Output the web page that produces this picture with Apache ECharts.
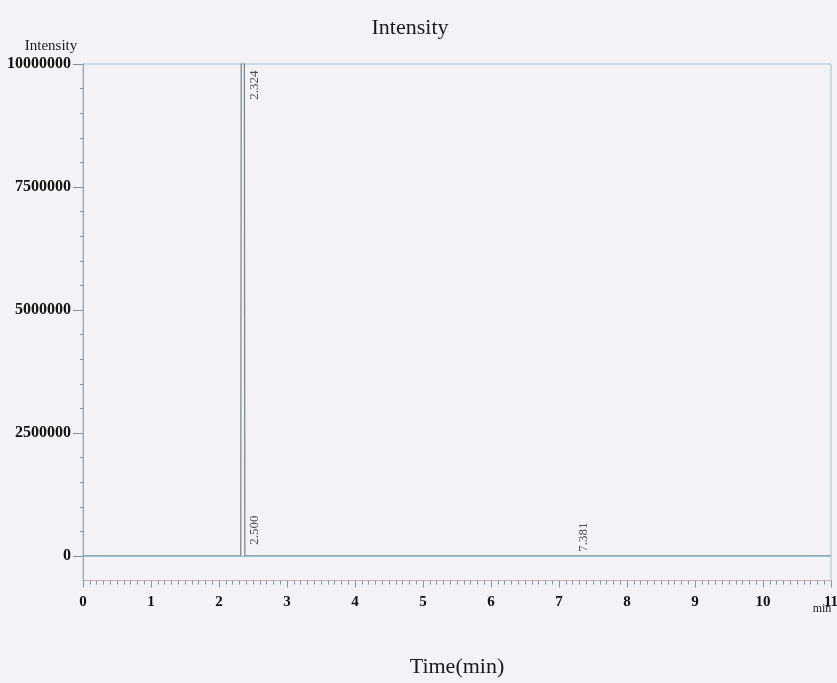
<!DOCTYPE html>
<html>
<head>
<meta charset="utf-8">
<script src="https://cdn.jsdelivr.net/npm/echarts@6/dist/echarts.min.js"></script>
<style>
html,body{margin:0;padding:0;background:#f2f2f7;}
#c{width:837px;height:683px;}
</style>
</head>
<body>
<div id="c"></div>
<script>
// ---- data ----
var signalTimes  = [0, 2.32, 2.33, 2.37, 2.38, 2.50, 7.381, 11];
var signalValues = [0, 0, 15000000, 15000000, 0, 0, 0, 0];
var peakTimes  = [2.324, 2.500, 7.381];
var peakApex   = [10000000, 0, 0];   // displayed apex (2.324 is off scale, clipped at top)
var peakLabels = ['2.324', '2.500', '7.381'];
var yTickValues = [0, 2500000, 5000000, 7500000, 10000000];
var yMinorValues = [500000,1000000,1500000,2000000,3000000,3500000,4000000,4500000,5500000,6000000,6500000,7000000,8000000,8500000,9000000,9500000];

// label offsets (rotated frame: [-screenDy, screenDx])
var labelOffsets = [[-21, 14], [26, 2], [19, -1]];

var signal = signalTimes.map(function (t, i) { return [t, signalValues[i]]; });
var peaks = peakTimes.map(function (t, i) {
  return {
    value: [t, peakApex[i]],
    label: { offset: labelOffsets[i] }
  };
});

var serif = '"Liberation Serif", "DejaVu Serif", serif';
var chart = echarts.init(document.getElementById('c'), null, { renderer: 'canvas' });
chart.setOption({
  backgroundColor: '#f2f2f7',
  animation: false,
  grid: {
    left: 83, right: 6, top: 64, bottom: 683 - 580.6,
    containLabel: false, outerBoundsMode: 'none',
    show: true, borderColor: '#a6c3cf', borderWidth: 1, backgroundColor: 'transparent'
  },
  graphic: [
    { type: 'text', x: 410, y: 28, style: { text: 'Intensity', font: '22px ' + serif, fill: '#1a1a1a', textAlign: 'center', textVerticalAlign: 'middle' } },
    { type: 'text', x: 51, y: 46, style: { text: 'Intensity', font: '15px ' + serif, fill: '#1a1a1a', textAlign: 'center', textVerticalAlign: 'middle' } },
    { type: 'text', x: 822, y: 609, style: { text: 'min', font: '12px ' + serif, fill: '#1a1a1a', textAlign: 'center', textVerticalAlign: 'middle' } }
  ],
  xAxis: {
    type: 'value', min: 0, max: 11, interval: 1,
    name: 'Time(min)', nameLocation: 'middle', nameGap: 76,
    nameTextStyle: { fontFamily: serif, fontSize: 22, color: '#1a1a1a' },
    axisLine: { onZero: false, lineStyle: { color: '#d8a8b4', width: 1 } },
    axisTick: { show: true, length: 7, lineStyle: { color: '#7f98ad' } },
    minorTick: { show: true, splitNumber: 10, length: 4, lineStyle: { color: '#7f98ad' } },
    splitLine: { show: false },
    axisLabel: { margin: 14, fontFamily: serif, fontSize: 15, fontWeight: 'bold', color: '#111', showMaxLabel: true, showMinLabel: true }
  },
  yAxis: [{
    type: 'value', min: -500000, max: 10000000,
    axisLine: { show: true, onZero: false, lineStyle: { color: '#9aa6b4' } },
    axisTick: { show: true, length: 10, customValues: yTickValues, lineStyle: { color: '#8090a0' } },
    axisLabel: { customValues: yTickValues, margin: 12, fontFamily: serif, fontSize: 16, fontWeight: 'bold', color: '#111',
      formatter: function (v) { return String(v); } },
    splitLine: { show: false }
  }, {
    type: 'value', min: -500000, max: 10000000, position: 'left',
    axisLine: { show: false, onZero: false },
    axisTick: { show: true, length: 3, customValues: yMinorValues, lineStyle: { color: '#8090a0' } },
    axisLabel: { show: false },
    splitLine: { show: false }
  }],
  series: [{
    type: 'line', data: signal, symbol: 'none', clip: true,
    lineStyle: { color: '#7e8892', width: 1.3 },
    markLine: {
      silent: true, symbol: 'none', label: { show: false },
      lineStyle: { color: '#8cc6d4', width: 1.2, type: 'solid' },
      data: [{ yAxis: 0 }]
    }
  }, {
    type: 'scatter', data: peaks, symbolSize: 0,
    label: {
      show: true, rotate: 90, position: 'inside', align: 'center', verticalAlign: 'middle',
      formatter: function (p) { return peakLabels[p.dataIndex]; },
      fontFamily: serif, fontSize: 13, color: '#222'
    }
  }]
});
</script>
</body>
</html>
